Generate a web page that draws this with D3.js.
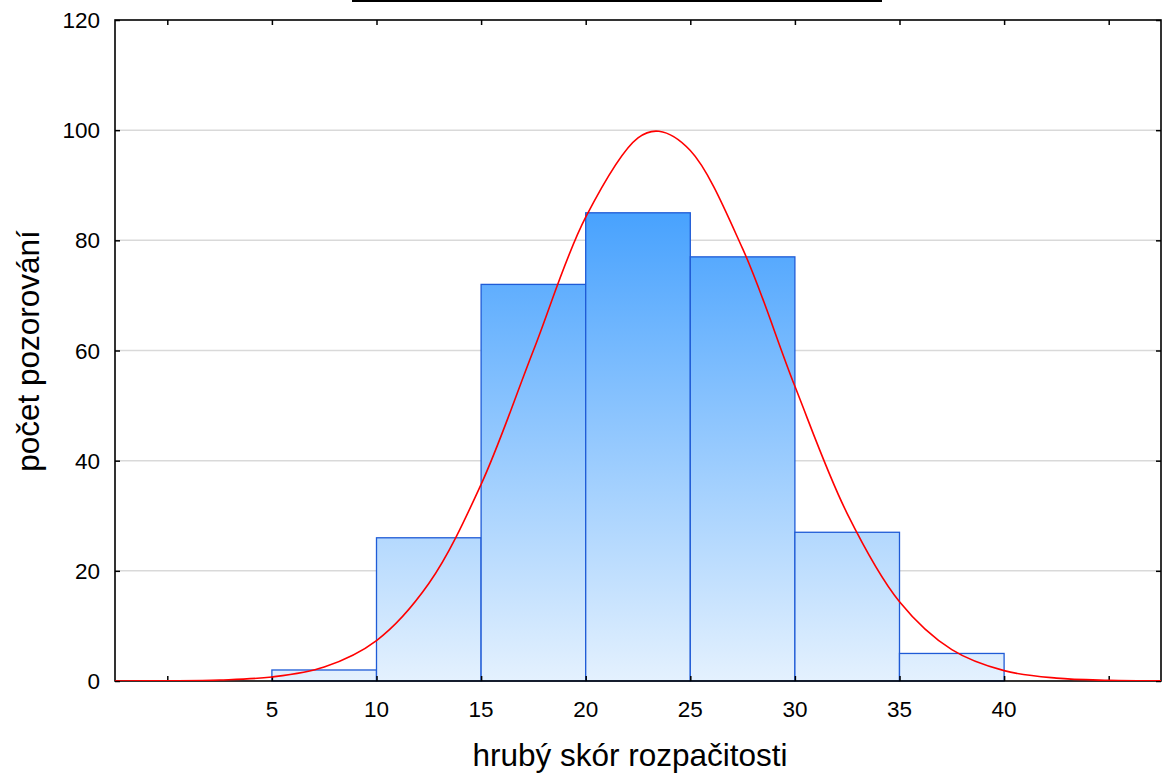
<!DOCTYPE html>
<html>
<head>
<meta charset="utf-8">
<script src="https://cdn.jsdelivr.net/npm/d3@7"></script>
<style>
  html, body { margin: 0; padding: 0; background: #fff; }
  svg { display: block; font-family: "Liberation Sans", Arial, sans-serif; }
</style>
</head>
<body>
<svg id="chart" width="1167" height="776"></svg>
<script>
// ---- data ----
const binStarts = [5, 10, 15, 20, 25, 30, 35];
const binEnds   = [10, 15, 20, 25, 30, 35, 40];
const counts    = [2, 26, 72, 85, 77, 27, 5];

// fitted normal curve (expected counts)
const curveX = [-2.5, 0, 2.5, 5, 7.5, 10, 12.5, 15, 17.5, 20, 22.5, 23.5, 25, 27.5, 30, 32.5, 35, 37.5, 40, 42.5, 45, 47.5];
const curveY = [0.006, 0.036, 0.18, 0.73, 2.54, 7.35, 17.7, 35.7, 60.0, 84.2, 98.6, 99.8, 96.3, 78.5, 53.5, 30.4, 14.4, 5.7, 1.88, 0.52, 0.12, 0.02];

const xTicks = [0, 5, 10, 15, 20, 25, 30, 35, 40, 45];
const xTickLabels = ["", "5", "10", "15", "20", "25", "30", "35", "40", ""];
const yTicks = [0, 20, 40, 60, 80, 100, 120];
const yTickLabels = ["0", "20", "40", "60", "80", "100", "120"];

const xTitle = "hrubý skór rozpačitosti";
const yTitle = "počet pozorování";

// ---- layout ----
const L = 115, R = 1161, T = 20, B = 681;
const svg = d3.select("#chart");

const x = d3.scaleLinear().domain([-2.5, 47.5]).range([L, R]);
const y = d3.scaleLinear().domain([0, 120]).range([B, T]);

const defs = svg.append("defs");
const grad = defs.append("linearGradient")
  .attr("id", "barGrad")
  .attr("gradientUnits", "userSpaceOnUse")
  .attr("x1", 0).attr("x2", 0)
  .attr("y1", y(0)).attr("y2", y(85));
grad.append("stop").attr("offset", 0).attr("stop-color", "#e4f1fe");
grad.append("stop").attr("offset", 1).attr("stop-color", "#48a2fe");

defs.append("clipPath").attr("id", "plotClip")
  .append("rect").attr("x", L).attr("y", T).attr("width", R - L).attr("height", B - T);

// title remnant line at top
svg.append("line")
  .attr("x1", 352).attr("x2", 882).attr("y1", 1).attr("y2", 1)
  .attr("stroke", "#000").attr("stroke-width", 2);

// gridlines
svg.append("g").selectAll("line")
  .data(yTicks.filter(v => v > 0 && v < 120))
  .join("line")
  .attr("x1", L).attr("x2", R)
  .attr("y1", d => y(d)).attr("y2", d => y(d))
  .attr("stroke", "#d9d9d9").attr("stroke-width", 1.5);

// bars
const bins = counts.map((c, i) => ({ x0: binStarts[i], x1: binEnds[i], c }));
svg.append("g").selectAll("rect")
  .data(bins)
  .join("rect")
  .attr("x", d => x(d.x0))
  .attr("y", d => y(d.c))
  .attr("width", d => x(d.x1) - x(d.x0))
  .attr("height", d => y(0) - y(d.c))
  .attr("fill", "url(#barGrad)")
  .attr("stroke", "#1f5bd6")
  .attr("stroke-width", 1.3);

// axes (all four sides, ticks inward)
const tickLen = 5;
const bottomAxis = d3.axisBottom(x).tickValues(xTicks).tickSize(-tickLen).tickFormat("");
const topAxis = d3.axisTop(x).tickValues(xTicks).tickSize(-tickLen).tickFormat("");
const leftAxis = d3.axisLeft(y).tickValues(yTicks).tickSize(-tickLen).tickFormat("");
const rightAxis = d3.axisRight(y).tickValues(yTicks).tickSize(-tickLen).tickFormat("");

function styleAxis(g) {
  g.select(".domain").remove();
  g.selectAll(".tick line").attr("stroke", "#000").attr("stroke-width", 1.5);
}
svg.append("g").attr("transform", `translate(0,${B})`).call(bottomAxis).call(styleAxis);
svg.append("g").attr("transform", `translate(0,${T})`).call(topAxis).call(styleAxis);
svg.append("g").attr("transform", `translate(${L},0)`).call(leftAxis).call(styleAxis);
svg.append("g").attr("transform", `translate(${R},0)`).call(rightAxis).call(styleAxis);

// frame
svg.append("rect")
  .attr("x", L).attr("y", T).attr("width", R - L).attr("height", B - T)
  .attr("fill", "none").attr("stroke", "#000").attr("stroke-width", 1.6);

// fitted curve
const pts = curveX.map((v, i) => [v, curveY[i]]);
svg.append("path")
  .datum(pts)
  .attr("clip-path", "url(#plotClip)")
  .attr("fill", "none")
  .attr("stroke", "#ff0000")
  .attr("stroke-width", 1.6)
  .attr("d", d3.line().x(d => x(d[0])).y(d => y(d[1])).curve(d3.curveCatmullRom.alpha(0.5)));

// tick labels
svg.append("g").selectAll("text")
  .data(xTicks.map((v, i) => ({ v, t: xTickLabels[i] })).filter(d => d.t !== ""))
  .join("text")
  .attr("x", d => x(d.v)).attr("y", 717)
  .attr("text-anchor", "middle")
  .attr("font-size", 22.5).attr("fill", "#000")
  .text(d => d.t);

svg.append("g").selectAll("text")
  .data(yTicks.map((v, i) => ({ v, t: yTickLabels[i] })))
  .join("text")
  .attr("x", 100).attr("y", d => y(d.v) + 8)
  .attr("text-anchor", "end")
  .attr("font-size", 22.5).attr("fill", "#000")
  .text(d => d.t);

// axis titles
svg.append("text")
  .attr("x", 630).attr("y", 766)
  .attr("text-anchor", "middle")
  .attr("font-size", 31.5).attr("fill", "#000")
  .text(xTitle);

svg.append("text")
  .attr("transform", `translate(39,351) rotate(-90)`)
  .attr("text-anchor", "middle")
  .attr("font-size", 31.5).attr("fill", "#000")
  .text(yTitle);
</script>
</body>
</html>
